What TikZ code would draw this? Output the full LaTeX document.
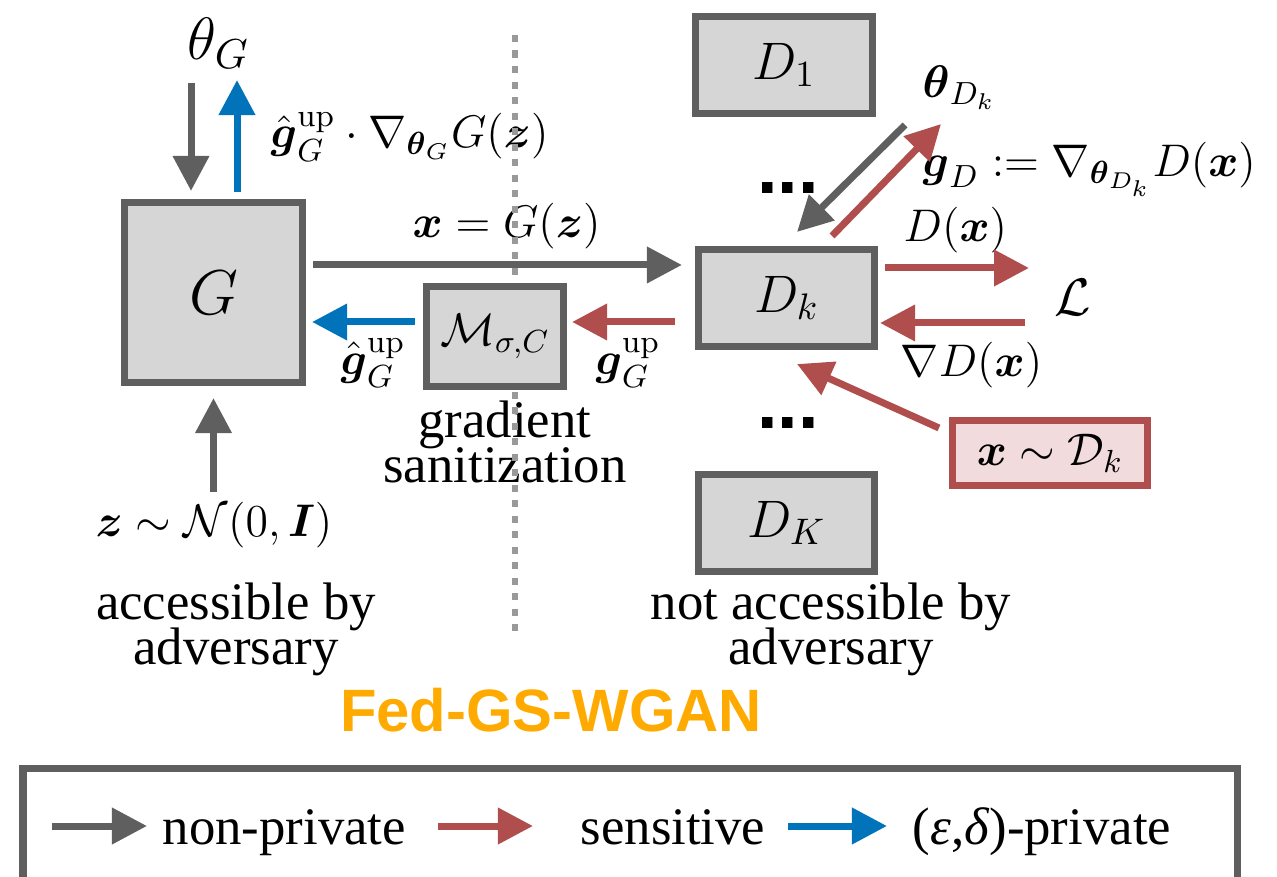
\RequirePackage{fix-cm}
\documentclass[tikz,border=0pt]{standalone}
\usepackage{amsmath,amssymb}
\usepackage[no-math]{fontspec}
\setmainfont{Liberation Serif}
\newfontfamily\headfont{Liberation Sans}
\usetikzlibrary{arrows.meta,positioning}
\definecolor{boxgray}{RGB}{95,95,95}
\definecolor{boxfill}{RGB}{214,214,214}
\definecolor{snsred}{RGB}{176,77,77}
\definecolor{prvblue}{RGB}{0,115,186}
\definecolor{dotgray}{RGB}{153,153,153}
\definecolor{pinkfill}{RGB}{241,219,221}
\definecolor{fedorange}{RGB}{255,170,0}
\newcommand{\tightlines}{\lineskiplimit=-10pt\relax}
\tikzset{
  >={Triangle[length=3.5mm,width=3.5mm]},
  box/.style={draw=boxgray, fill=boxfill, line width=0.7mm, inner sep=0pt,
    font=\fontsize{15}{18}\selectfont},
  dbox/.style={box, minimum width=17.6mm, minimum height=9.7mm},
  lbl/.style={inner sep=0pt, font=\fontsize{13}{15}\selectfont},
  txt/.style={inner sep=0pt, align=center,
    font=\fontsize{15}{12.8}\selectfont\tightlines},
  dots/.style={inner sep=0pt, font=\fontsize{21}{24}\selectfont\headfont\bfseries},
  npv/.style={->, draw=boxgray, line width=0.7mm},
  sns/.style={->, draw=snsred, line width=0.7mm},
  prv/.style={->, draw=prvblue, line width=0.7mm},
}

\begin{document}
\begin{tikzpicture}[x=0.01cm, y=-0.01cm]
  \useasboundingbox (0,0) rectangle (1277,877);
  \clip (0,0) rectangle (1277,877);

  % Labels
  \node[lbl, anchor=base west, font=\fontsize{17}{20}\selectfont] (thG) at (187,60) {$\theta_G$};
  \node[lbl, anchor=base west] (gup) at (270,148) {$\hat{\boldsymbol{g}}_G^{\mathrm{up}}\cdot\nabla_{\boldsymbol{\theta}_G}G(\boldsymbol{z})$};
  \node[lbl, anchor=base west] (xG) at (412,238) {$\boldsymbol{x}=G(\boldsymbol{z})$};
  \node[lbl] (ghat) at (373,363) {$\hat{\boldsymbol{g}}_G^{\mathrm{up}}$};
  \node[lbl] (graw) at (628,363) {$\boldsymbol{g}_G^{\mathrm{up}}$};
  \node[txt] (gs) at (505,442) {gradient\\sanitization};
  \node[lbl, anchor=base west] (zN) at (95,537) {$\boldsymbol{z}\sim\mathcal{N}(0,\boldsymbol{I})$};
  \node[txt] (acc) at (236,629) {accessible by\\adversary};
  \node[txt] (nacc) at (831,629) {not accessible by\\adversary};
  \node[lbl, anchor=base west] (thD) at (922,98) {$\boldsymbol{\theta}_{D_k}$};
  \node[lbl, anchor=base west] (gD) at (922,177) {$\boldsymbol{g}_D:=\nabla_{\boldsymbol{\theta}_{D_k}}D(\boldsymbol{x})$};
  \node[lbl, anchor=base west] (Dx) at (903,242) {$D(\boldsymbol{x})$};
  \node[lbl, anchor=base west] (nDx) at (900,377) {$\nabla D(\boldsymbol{x})$};
  \node[lbl, font=\fontsize{15}{18}\selectfont] (L) at (1073,297) {$\mathcal{L}$};
  \node[dots] (dtop) at (788,188) {...};
  \node[dots] (dbot) at (788,423) {...};
  \node[inner sep=0pt, text=fedorange, font=\fontsize{17}{20}\selectfont\headfont\bfseries] (fed) at (551,710) {Fed-GS-WGAN};

  % Dotted divider
  \draw[dotgray, line width=0.6mm, dash pattern=on 0.7mm off 0.85mm] (515,35) -- (515,635);

  % Boxes
  \node[box, minimum width=17.7mm, minimum height=17.9mm, font=\fontsize{18}{20}\selectfont] (G) at (213.5,292.5) {$G$};
  \node[box, minimum width=13.7mm, minimum height=10mm, font=\fontsize{13}{15}\selectfont] (M) at (495,336.5) {$\mathcal{M}_{\sigma,C}$};
  \node[dbox] (D1) at (784,65) {$D_1$};
  \node[dbox] (Dk) at (786.5,298) {$D_k$};
  \node[dbox] (DK) at (786.5,523) {$D_K$};
  \node[box, draw=snsred, fill=pinkfill, minimum width=19.5mm, minimum height=6.5mm,
    font=\fontsize{13}{15}\selectfont] (xD) at (1050,453) {$\boldsymbol{x}\sim\mathcal{D}_k$};

  % Generator side
  \coordinate (thGin) at (191,83);
  \coordinate (thGout) at (237,80);
  \coordinate (zin) at (213.5,492);
  \coordinate (grow) at (0,322);
  \draw[npv, shorten >=0.85mm] (thGin) -- (thGin |- G.north);
  \draw[prv, shorten <=0.75mm] (thGout |- G.north) -- (thGout);
  \draw[npv, shorten >=1.25mm] (zin) -- (G.south);
  \draw[npv, shorten <=0.75mm, shorten >=1.3mm] ([yshift=2.75mm]G.east) -- ([yshift=2.75mm]G.east -| Dk.west);
  \draw[sns, shorten <=2mm, shorten >=0.5mm] (Dk.west |- grow) -- (M.east |- grow);
  \draw[prv, shorten <=0.8mm, shorten >=0.65mm] (M.west |- grow) -- (G.east |- grow);

  % Discriminator side
  \coordinate (thDin) at (905,125);
  \coordinate (thDout) at (941,124);
  \coordinate (lin) at (1029,268);
  \coordinate (lout) at (1025,323);
  \draw[npv] (thDin) -- ([xshift=1.05mm,yshift=1.4mm]Dk.north);
  \draw[sns] ([xshift=4.55mm,yshift=1mm]Dk.north) -- (thDout);
  \draw[sns, shorten <=0.7mm] (Dk.east |- lin) -- (lin);
  \draw[sns, shorten >=0.2mm] (lout) -- (Dk.east |- lout);
  \draw[sns] ([xshift=-1mm,yshift=2.5mm]xD.west) -- ([xshift=1.05mm,yshift=-1.4mm]Dk.south);

  % Legend
  \draw[boxgray, line width=0.7mm] (23,768) rectangle (1237,900);
  \node[lbl, anchor=base west, font=\fontsize{15}{18}\selectfont] (np) at (162,844) {non-private};
  \node[lbl, anchor=base west, font=\fontsize{15}{18}\selectfont] (sen) at (580,844) {sensitive};
  \node[lbl, anchor=base west, font=\fontsize{15}{18}\selectfont] (pv) at (912,844) {(\textit{ε},\textit{δ})-private};
  \coordinate (lg) at (52,826);
  \draw[npv, shorten >=1.5mm] (lg) -- (lg -| np.west);
  \draw[sns, shorten <=3.1mm, shorten >=4.7mm] (lg -| np.east) -- (lg -| sen.west);
  \draw[prv, shorten <=2.2mm, shorten >=2.5mm] (lg -| sen.east) -- (lg -| pv.west);
\end{tikzpicture}
\end{document}
